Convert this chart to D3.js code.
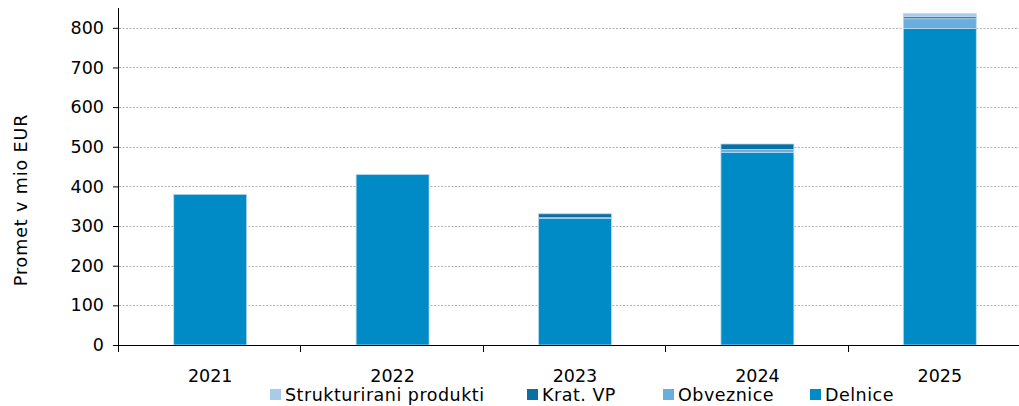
<!DOCTYPE html>
<html>
<head>
<meta charset="utf-8">
<script src="https://cdn.jsdelivr.net/npm/d3@7"></script>
<style>
body { margin: 0; background: #fff; }
text { font-family: "DejaVu Sans", sans-serif; fill: #000; }
</style>
</head>
<body>
<div id="chart"></div>
<script>
// podatki
const years = ["2021", "2022", "2023", "2024", "2025"];
const delnice = [380, 430, 320, 486, 798];
const obveznice = [0, 0, 1, 7, 25];
const kratVP = [0, 0, 10, 14, 5];
const strukturirani = [0, 0, 0, 0, 8];
const seriesNames = ["Delnice", "Obveznice", "Krat. VP", "Strukturirani produkti"];
const yTicks = [0, 100, 200, 300, 400, 500, 600, 700, 800];

const colors = {
    "Delnice": "#008bc6",
    "Obveznice": "#6aaede",
    "Krat. VP": "#0a6fa3",
    "Strukturirani produkti": "#a9cbea"
};

const width = 1019;
const height = 406;
const margin = { top: 8, right: -12, bottom: 61, left: 119 };
const innerWidth = width - margin.left - margin.right;
const innerHeight = height - margin.top - margin.bottom;

const table = years.map((y, i) => ({
    year: y,
    "Delnice": delnice[i],
    "Obveznice": obveznice[i],
    "Krat. VP": kratVP[i],
    "Strukturirani produkti": strukturirani[i]
}));

const stack = d3.stack().keys(seriesNames);
const stacked = stack(table);

const svg = d3.select("#chart").append("svg")
    .attr("width", width)
    .attr("height", height);

const g = svg.append("g")
    .attr("transform", `translate(${margin.left},${margin.top})`);

const x = d3.scaleBand()
    .domain(years)
    .range([0, innerWidth])
    .paddingInner(0.6)
    .paddingOuter(0.3);

const y = d3.scaleLinear()
    .domain([0, 850])
    .range([innerHeight, 0]);

// mreza
g.selectAll(".grid")
    .data(yTicks.filter(d => d > 0))
    .enter().append("line")
    .attr("x1", 0)
    .attr("x2", innerWidth)
    .attr("y1", d => Math.round(y(d)) + 0.5)
    .attr("y2", d => Math.round(y(d)) + 0.5)
    .attr("stroke", "#b4b4b4")
    .attr("stroke-dasharray", "2,1.5")
    .attr("stroke-width", 1);

// stolpci
const layers = g.selectAll(".layer")
    .data(stacked)
    .enter().append("g")
    .attr("fill", d => colors[d.key]);

layers.selectAll("rect")
    .data(d => d.filter(p => p[1] - p[0] > 0))
    .enter().append("rect")
    .attr("x", d => x(d.data.year))
    .attr("y", d => y(d[1]))
    .attr("width", x.bandwidth())
    .attr("height", d => y(d[0]) - y(d[1]))
    .attr("stroke", "#bcd9ee")
    .attr("stroke-width", 0.8);

// os y
const yAxis = g.append("g")
    .call(d3.axisLeft(y).tickValues(yTicks).tickSize(6).tickPadding(9));
yAxis.select(".domain").attr("d", `M-0.5,0V${innerHeight}`).attr("stroke", "#000");
yAxis.selectAll(".tick line").attr("stroke", "#000");
yAxis.selectAll("text").style("font-size", "17.5px").style("font-family", "DejaVu Sans");

// os x
const step = x.step();
const bounds = d3.range(years.length + 1).map(i => i * step);
const xAxis = g.append("g")
    .attr("transform", `translate(0,${innerHeight})`);
xAxis.append("line")
    .attr("x1", -6).attr("x2", innerWidth)
    .attr("y1", 0.5).attr("y2", 0.5)
    .attr("stroke", "#000");
xAxis.selectAll(".btick")
    .data(bounds)
    .enter().append("line")
    .attr("x1", d => Math.round(d) - 0.5)
    .attr("x2", d => Math.round(d) - 0.5)
    .attr("y1", 0).attr("y2", 7)
    .attr("stroke", "#000");
xAxis.selectAll(".xlabel")
    .data(years)
    .enter().append("text")
    .attr("x", d => x(d) + x.bandwidth() / 2)
    .attr("y", 37)
    .attr("text-anchor", "middle")
    .style("font-size", "17.5px")
    .text(d => d);

// naslov osi
svg.append("text")
    .attr("transform", "translate(27,200) rotate(-90)")
    .attr("text-anchor", "middle")
    .style("font-size", "17.5px")
    .style("letter-spacing", "0.9px")
    .text("Promet v mio EUR");

// legenda
const legendItems = [
    { name: "Strukturirani produkti", x: 270 },
    { name: "Krat. VP", x: 527 },
    { name: "Obveznice", x: 663 },
    { name: "Delnice", x: 810 }
];
const legend = svg.selectAll(".legend")
    .data(legendItems)
    .enter().append("g")
    .attr("transform", d => `translate(${d.x},389)`);
legend.append("rect")
    .attr("width", 11)
    .attr("height", 11)
    .attr("fill", d => colors[d.name]);
legend.append("text")
    .attr("x", 15)
    .attr("y", 12)
    .style("font-size", "17.5px")
    .style("letter-spacing", "0.5px")
    .text(d => d.name);
</script>
</body>
</html>
